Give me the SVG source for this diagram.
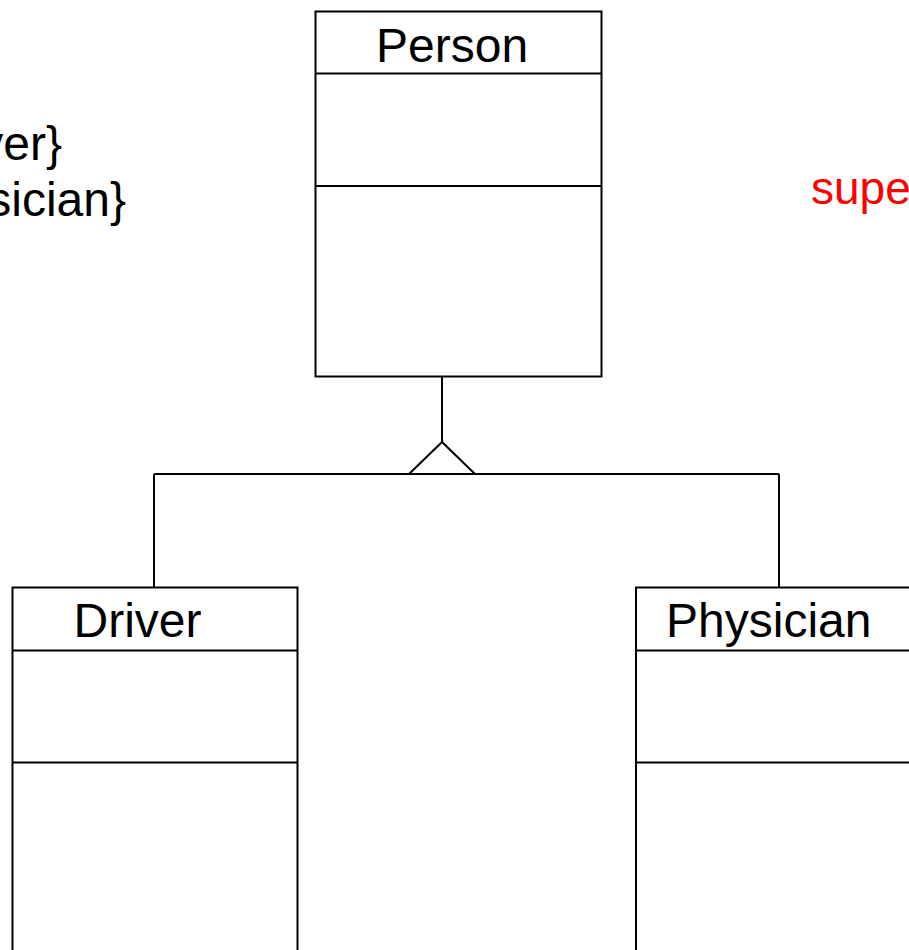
<svg xmlns="http://www.w3.org/2000/svg" width="909" height="950" viewBox="0 0 909 950">
  <style>
    .box { fill: #ffffff; stroke: #000000; stroke-width: 2; }
    .div { stroke: #000000; stroke-width: 2; }
    .name { font-family: "Liberation Sans", Arial, sans-serif; font-size: 48px; fill: #000000; }
    .note { font-family: "Liberation Sans", Arial, sans-serif; font-size: 48px; fill: #000000; }
    .red { font-family: "Liberation Sans", Arial, sans-serif; font-size: 46px; fill: #ff0000; }
    .conn { fill: none; stroke: #000000; stroke-width: 2; }
  </style>
  <rect x="0" y="0" width="909" height="950" fill="#ffffff"/>

  <!-- constraint notes -->
  <g id="notes">
    <text class="note" x="62" y="160" text-anchor="end">ver}</text>
    <text class="note" x="126" y="216" text-anchor="end">sician}</text>
    <text class="red" x="811" y="204">supe</text>
  </g>

  <!-- generalization connectors -->
  <g id="connectors">
    <line class="conn" x1="442" y1="376" x2="442" y2="442"/>
    <polygon class="conn" points="442,442 409,474 475,474"/>
    <line class="conn" x1="154" y1="474" x2="779" y2="474"/>
    <line class="conn" x1="154" y1="474" x2="154" y2="587"/>
    <line class="conn" x1="779" y1="474" x2="779" y2="587"/>
  </g>

  <g id="person">
    <rect class="box" x="315.5" y="11.5" width="286" height="365"/>
    <line class="div" x1="315.5" y1="73.5" x2="601.5" y2="73.5"/>
    <line class="div" x1="315.5" y1="186" x2="601.5" y2="186"/>
    <text class="name" x="376" y="62">Person</text>
  </g>

  <g id="driver">
    <rect class="box" x="12.5" y="587.5" width="285" height="400"/>
    <line class="div" x1="12.5" y1="650.5" x2="297.5" y2="650.5"/>
    <line class="div" x1="12.5" y1="762.5" x2="297.5" y2="762.5"/>
    <text class="name" x="73.5" y="637">Driver</text>
  </g>

  <g id="physician">
    <rect class="box" x="636" y="587.5" width="285" height="400"/>
    <line class="div" x1="636" y1="650.5" x2="921" y2="650.5"/>
    <line class="div" x1="636" y1="762.5" x2="921" y2="762.5"/>
    <text class="name" x="666" y="637">Physician</text>
  </g>
</svg>
